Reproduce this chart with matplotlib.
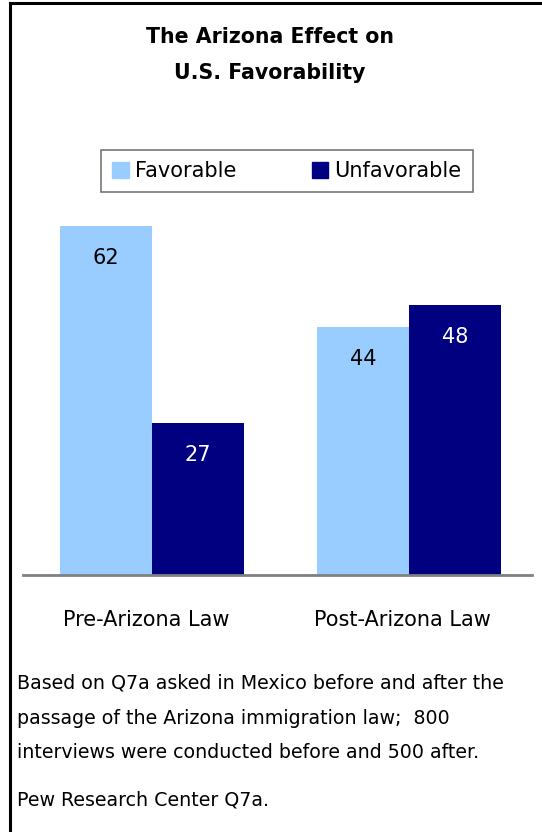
import matplotlib.pyplot as plt
from matplotlib.lines import Line2D
from matplotlib.patches import Patch
import numpy as np

# datos
groups = ['Pre-Arizona Law', 'Post-Arizona Law']
favorable = [62, 44]
unfavorable = [27, 48]

light = '#99ccff'
dark = '#000080'

W, H = 542, 832
fig = plt.figure(figsize=(W / 100, H / 100), dpi=100)

# ejes en pixeles: x 23..532, y 195..575
ax = fig.add_axes([23 / W, 1 - 575 / H, (532 - 23) / W, (575 - 195) / H])

x = np.arange(len(groups))
w = 0.358
b1 = ax.bar(x - w / 2, favorable, w, color=light)
b2 = ax.bar(x + w / 2, unfavorable, w, color=dark)

for rect, v in zip(b1, favorable):
    ax.text(rect.get_x() + rect.get_width() / 2, v - 5.7, str(v),
            ha='center', va='center', fontsize=15, color='black')
for rect, v in zip(b2, unfavorable):
    ax.text(rect.get_x() + rect.get_width() / 2, v - 5.7, str(v),
            ha='center', va='center', fontsize=15, color='white')

ax.set_xlim(-0.502, 1.48)
ax.set_ylim(0, 67.5)
for s in ['left', 'right', 'top']:
    ax.spines[s].set_visible(False)
ax.spines['bottom'].set_color('#808080')
ax.spines['bottom'].set_linewidth(2)
ax.set_yticks([])
ax.set_xticks(x - 0.023)
ax.set_xticklabels(groups, fontsize=15)
ax.tick_params(axis='x', length=0, pad=25)

# titulo
fig.text(270 / W, 1 - 37 / H, 'The Arizona Effect on', ha='center', va='center',
         fontsize=14.8, fontweight='bold')
fig.text(270 / W, 1 - 73 / H, 'U.S. Favorability', ha='center', va='center',
         fontsize=14.8, fontweight='bold')

# leyenda
handles = [Patch(color=light, label='Favorable'), Patch(color=dark, label='Unfavorable')]
leg = fig.legend(handles=handles, loc='center', bbox_to_anchor=(287 / W, 1 - 171 / H),
                 ncol=2, fontsize=15, frameon=True, fancybox=False, edgecolor='#555555',
                 handlelength=0.8, handleheight=0.8, handletextpad=0.3, columnspacing=3.6,
                 borderpad=0.55, borderaxespad=0)
leg.get_frame().set_linewidth(1.2)

# notas
notes = ['Based on Q7a asked in Mexico before and after the',
         'passage of the Arizona immigration law;  800',
         'interviews were conducted before and 500 after.']
for i, line in enumerate(notes):
    fig.text(17 / W, 1 - (683 + 35 * i) / H, line, ha='left', va='center', fontsize=13.7)
fig.text(17 / W, 1 - 800 / H, 'Pew Research Center Q7a.', ha='left', va='center', fontsize=13.7)

# marco
fig.add_artist(Line2D([10 / W, 10 / W], [0, 1 - 2.5 / H], color='black', lw=2.2))
fig.add_artist(Line2D([10 / W, 1], [1 - 2.5 / H, 1 - 2.5 / H], color='black', lw=2.2))

fig.savefig('out.png', dpi=100)
